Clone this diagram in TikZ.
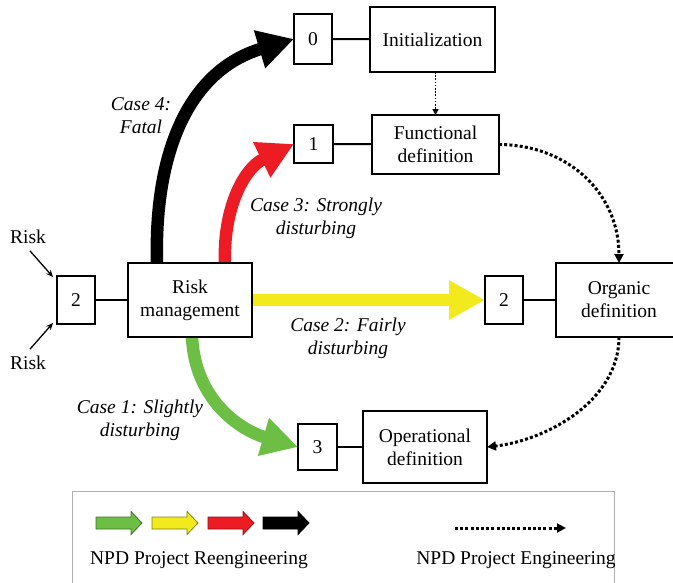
\documentclass[tikz,border=0pt]{standalone}
\usepackage{fontspec}
\setmainfont{Liberation Serif}
\usetikzlibrary{arrows.meta,backgrounds}

\definecolor{caseone}{RGB}{109,190,69}
\definecolor{casetwo}{RGB}{242,234,29}
\definecolor{casethree}{RGB}{237,28,36}
\definecolor{legendgray}{RGB}{175,175,175}

\begin{document}
\begin{tikzpicture}[x=1pt,y=-1pt,
  font=\fontsize{19.5}{23}\selectfont,
  every node/.style={inner sep=0pt, outer sep=0pt},
  numbox/.style={draw, fill=white, line width=1.5pt, align=center},
  phasebox/.style={draw, fill=white, line width=1.5pt, align=center},
  link/.style={line width=2pt},
  eng/.style={line width=3pt, dash pattern=on 3pt off 2.2pt,
    -{Triangle[length=9pt,width=9pt]}},
  engthin/.style={line width=1.6pt, dash pattern=on 1.6pt off 1.6pt,
    -{Triangle[length=6pt,width=6pt]}},
  reeng/.style={line width=12.5pt, -{Triangle[length=36pt,width=37pt]}},
  caselabel/.style={font=\fontsize{19.5}{23}\selectfont\itshape, align=center},
  riskin/.style={line width=1.3pt, -{Stealth[length=7pt,width=6pt]}},
  legarrow/.pic={\draw[pic actions, line width=0.8pt]
    (0,-6) -- (35,-6) -- (35,-11.5) -- (46,0) -- (35,11.5) -- (35,6) -- (0,6) -- cycle;}
]
\clip (0,0) rectangle (673,582);

% project phases and their numbered entry points
\node[numbox, minimum width=38pt, minimum height=50pt] (b0) at (313,39) {0};
\node[phasebox, minimum width=125pt, minimum height=65pt] (init) at (432.5,39.5) {Initialization};
\node[numbox, minimum width=39pt, minimum height=38pt] (b1) at (313.5,144) {1};
\node[phasebox, minimum width=127pt, minimum height=59pt] (func) at (435.5,144.5) {Functional\\definition};
\node[numbox, minimum width=38pt, minimum height=48pt] (b2L) at (76,300) {2};
\node[phasebox, minimum width=124pt, minimum height=74pt] (risk) at (190,300) {Risk\\management};
\node[numbox, minimum width=38pt, minimum height=48pt] (b2R) at (504,300) {2};
\node[phasebox, minimum width=126pt, minimum height=74pt] (org) at (619,300) {Organic\\definition};
\node[numbox, minimum width=39pt, minimum height=46pt] (b3) at (317.5,447) {3};
\node[phasebox, minimum width=124pt, minimum height=72pt] (oper) at (425,447) {Operational\\definition};

% incoming risks
\node (riskA) at (28,237) {Risk};
\node (riskB) at (28,363) {Risk};
\draw[riskin] ([shift={(2,7)}]riskA.south) -- ([shift={(-4,1)}]b2L.north west);
\draw[riskin] ([shift={(2,-7)}]riskB.north) -- ([shift={(-4,-1)}]b2L.south west);

\begin{scope}[on background layer]
  % plain links between numbers and phases
  \draw[link] (b2L) -- (risk);
  \draw[link] (b0) -- (init);
  \draw[link] (b1) -- (func);
  \draw[link] (b2R) -- (org);
  \draw[link] (b3) -- (oper);
  % reengineering cases
  \draw[reeng, black] ([xshift=-33pt]risk.north) .. controls (154,150) and (190,70) .. (b0.west);
  \draw[reeng, casethree] ([xshift=35pt]risk.north) .. controls (223,210) and (243,169) .. (b1.west);
  \draw[reeng, casetwo] (risk.east) -- (b2R.west);
  \draw[reeng, caseone] ([xshift=2pt]risk.south) .. controls (195,400) and (240,430) .. (b3.west);
\end{scope}

% regular engineering flow
\draw[engthin] (init.south -| func.north) -- (func.north);
\draw[eng] (func.east) .. controls (570,145) and (619,195) .. (org.north);
\draw[eng] (org.south) .. controls (619,400) and (548,440) .. (oper.east);

% case labels
\node[caselabel] (c4) at (141,116) {Case 4:\\Fatal};
\node[caselabel] (c3) at (316,218) {Case 3: Strongly\\disturbing};
\node[caselabel] (c2) at (348,338.5) {Case 2: Fairly\\disturbing};
\node[caselabel] (c1) at (140,420.5) {Case 1: Slightly\\disturbing};

% legend
\draw[legendgray, line width=1pt] (72,491) rectangle (614,600);
\pic[fill=caseone, draw=caseone!60!black] at (96,523) {legarrow};
\pic[fill=casetwo, draw=casetwo!55!black] at (152,523) {legarrow};
\pic[fill=casethree, draw=casethree!60!black] at (208,523) {legarrow};
\pic[fill=black, draw=black] at (263,523) {legarrow};
\node (legre) at (199,560) {NPD Project Reengineering};
\coordinate (legA) at (455,528);
\coordinate (legB) at (566,528);
\draw[eng] (legA) -- (legB);
\node (legen) at (516,560) {NPD Project Engineering};
\end{tikzpicture}
\end{document}
